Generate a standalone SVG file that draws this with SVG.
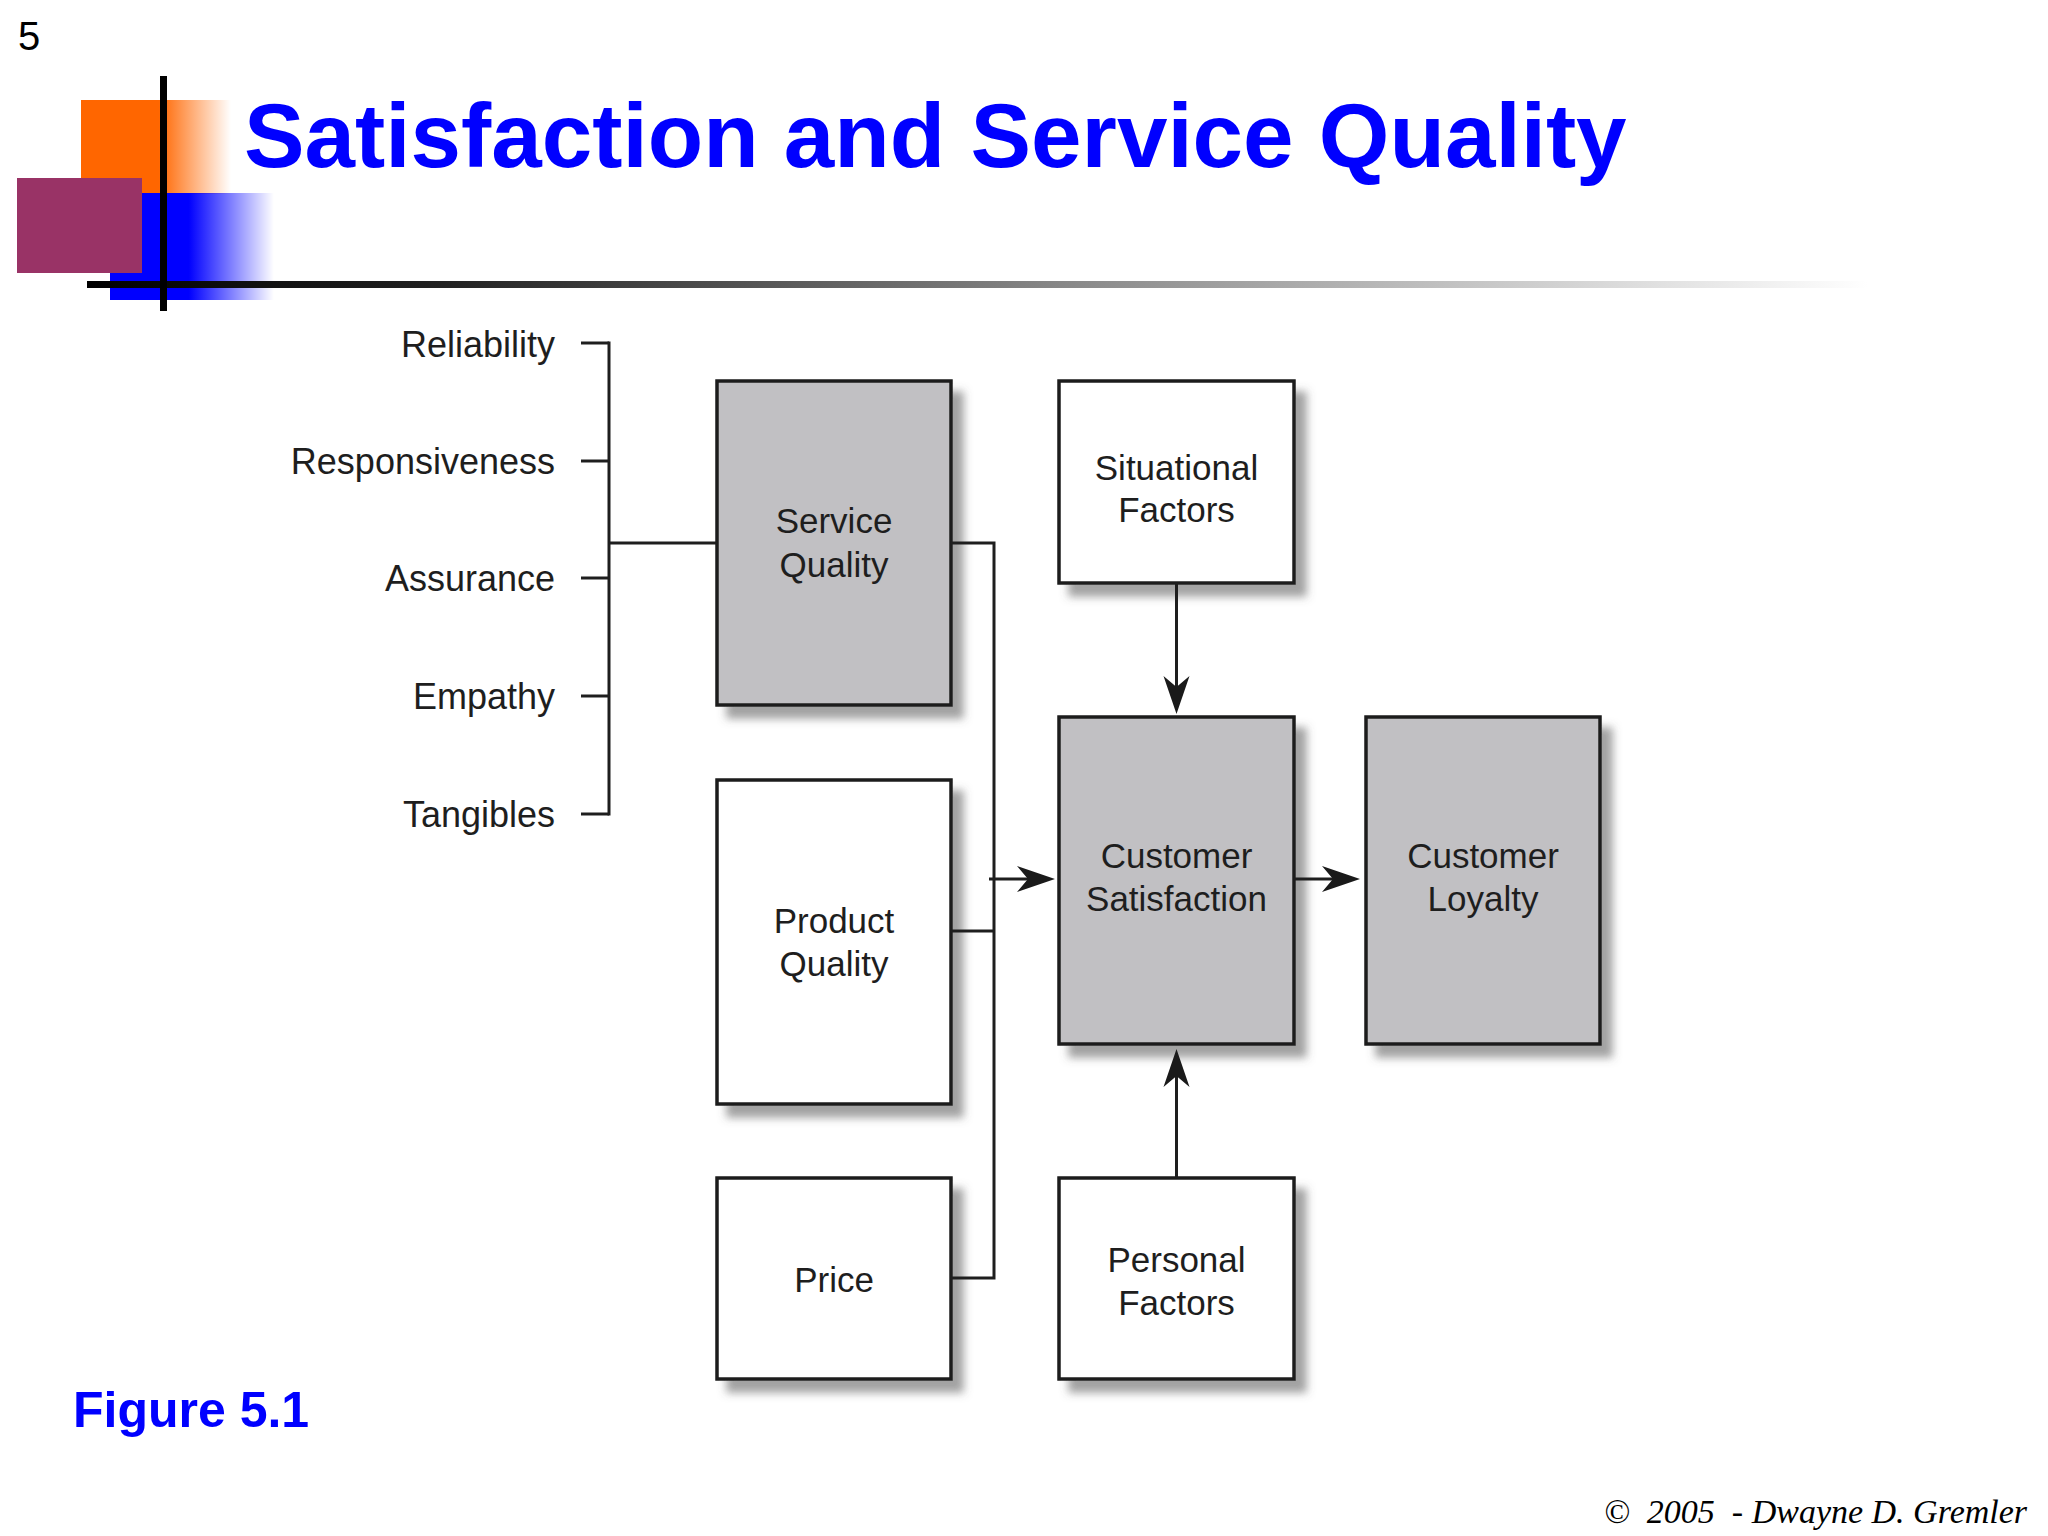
<svg xmlns="http://www.w3.org/2000/svg" width="2048" height="1536" viewBox="0 0 2048 1536">
  <defs>
    <linearGradient id="gOrange" x1="0" y1="0" x2="1" y2="0">
      <stop offset="0" stop-color="#FF6600"/>
      <stop offset="0.52" stop-color="#FF6600"/>
      <stop offset="1" stop-color="#FF6600" stop-opacity="0"/>
    </linearGradient>
    <linearGradient id="gBlue" x1="0" y1="0" x2="1" y2="0">
      <stop offset="0" stop-color="#0000FF"/>
      <stop offset="0.48" stop-color="#0000FF"/>
      <stop offset="1" stop-color="#0000FF" stop-opacity="0"/>
    </linearGradient>
    <linearGradient id="gLine" x1="0" y1="0" x2="1" y2="0">
      <stop offset="0" stop-color="#000000"/>
      <stop offset="0.2" stop-color="#222222"/>
      <stop offset="0.55" stop-color="#888888"/>
      <stop offset="0.85" stop-color="#d8d8d8"/>
      <stop offset="1" stop-color="#ffffff"/>
    </linearGradient>
    <filter id="shadow" x="-10%" y="-10%" width="130%" height="130%">
      <feDropShadow dx="11" dy="12" stdDeviation="4" flood-color="#555555" flood-opacity="0.55"/>
    </filter>
    <marker id="arrow" markerUnits="userSpaceOnUse" viewBox="-40 -15 42 30" markerWidth="42" markerHeight="30" refX="-8" refY="0" orient="auto">
      <path d="M0,0 L-38,-13 L-27,0 L-38,13 Z" fill="#1a1a1a"/>
    </marker>
    <style>
      .box { stroke: #1e1e1e; stroke-width: 3.5; filter: url(#shadow); }
      .gray { fill: #c1c0c3; }
      .white { fill: #ffffff; }
      .bt { font-family: "Liberation Sans", Arial, sans-serif; font-size: 35px; fill: #1e1e1e; text-anchor: middle; }
      .lbl { font-family: "Liberation Sans", Arial, sans-serif; font-size: 36px; fill: #1e1e1e; text-anchor: end; }
      .conn { stroke: #1e1e1e; stroke-width: 3; fill: none; }
    </style>
  </defs>

  <rect width="2048" height="1536" fill="#ffffff"/>

  <!-- header decoration -->
  <g id="header">
    <rect x="81" y="100" width="150" height="94" fill="url(#gOrange)"/>
    <rect x="110" y="193" width="164" height="107" fill="url(#gBlue)"/>
    <rect x="17" y="178" width="125" height="95" fill="#993366"/>
    <rect x="87" y="281" width="1781" height="7" fill="url(#gLine)"/>
    <rect x="160" y="76" width="7" height="235" fill="#000000"/>
  </g>

  <text x="18" y="50" font-family="Liberation Sans, Arial, sans-serif" font-size="40" fill="#000000">5</text>
  <text x="244" y="167" font-family="Liberation Sans, Arial, sans-serif" font-size="90.8" font-weight="bold" fill="#0000FF">Satisfaction and Service Quality</text>

  <!-- dimension labels -->
  <g id="label-reliability"><text class="lbl" x="555" y="357">Reliability</text></g>
  <g id="label-responsiveness"><text class="lbl" x="555" y="474">Responsiveness</text></g>
  <g id="label-assurance"><text class="lbl" x="555" y="591">Assurance</text></g>
  <g id="label-empathy"><text class="lbl" x="555" y="709">Empathy</text></g>
  <g id="label-tangibles"><text class="lbl" x="555" y="827">Tangibles</text></g>

  <!-- nodes -->
  <g id="service-quality">
    <rect class="box gray" x="717" y="381" width="234" height="324"/>
    <text class="bt" x="834" y="533">Service</text>
    <text class="bt" x="834" y="577">Quality</text>
  </g>
  <g id="product-quality">
    <rect class="box white" x="717" y="780" width="234" height="324"/>
    <text class="bt" x="834" y="933">Product</text>
    <text class="bt" x="834" y="976">Quality</text>
  </g>
  <g id="price">
    <rect class="box white" x="717" y="1178" width="234" height="201"/>
    <text class="bt" x="834" y="1292">Price</text>
  </g>
  <g id="situational-factors">
    <rect class="box white" x="1059" y="381" width="235" height="202"/>
    <text class="bt" x="1176.5" y="480">Situational</text>
    <text class="bt" x="1176.5" y="522">Factors</text>
  </g>
  <g id="customer-satisfaction">
    <rect class="box gray" x="1059" y="717" width="235" height="327"/>
    <text class="bt" x="1176.5" y="868">Customer</text>
    <text class="bt" x="1176.5" y="911">Satisfaction</text>
  </g>
  <g id="customer-loyalty">
    <rect class="box gray" x="1366" y="717" width="234" height="327"/>
    <text class="bt" x="1483" y="868">Customer</text>
    <text class="bt" x="1483" y="911">Loyalty</text>
  </g>
  <g id="personal-factors">
    <rect class="box white" x="1059" y="1178" width="235" height="201"/>
    <text class="bt" x="1176.5" y="1272">Personal</text>
    <text class="bt" x="1176.5" y="1315">Factors</text>
  </g>

  <!-- connectors -->
  <g id="connectors">
    <line class="conn" x1="581" y1="343" x2="609" y2="343"/>
    <line class="conn" x1="581" y1="461" x2="609" y2="461"/>
    <line class="conn" x1="581" y1="578" x2="609" y2="578"/>
    <line class="conn" x1="581" y1="696" x2="609" y2="696"/>
    <line class="conn" x1="581" y1="814" x2="609" y2="814"/>
    <line class="conn" x1="609" y1="341.5" x2="609" y2="815.5"/>
    <line class="conn" x1="609" y1="543" x2="717" y2="543"/>
    <polyline class="conn" points="951,543 994,543 994,1278 951,1278"/>
    <line class="conn" x1="951" y1="931" x2="994" y2="931"/>
    <line class="conn" x1="989" y1="879" x2="1047" y2="879" marker-end="url(#arrow)"/>
    <line class="conn" x1="1294" y1="879" x2="1352" y2="879" marker-end="url(#arrow)"/>
    <line class="conn" x1="1176.5" y1="583" x2="1176.5" y2="706" marker-end="url(#arrow)"/>
    <line class="conn" x1="1176.5" y1="1178" x2="1176.5" y2="1057" marker-end="url(#arrow)"/>
  </g>

  <text x="73" y="1427" font-family="Liberation Sans, Arial, sans-serif" font-size="50" font-weight="bold" fill="#0000FF">Figure 5.1</text>
  <text x="1604" y="1523" font-family="Liberation Serif, Times New Roman, serif" font-size="34" font-style="italic" fill="#000000" style="white-space:pre">©  2005  - Dwayne D. Gremler</text>
</svg>
